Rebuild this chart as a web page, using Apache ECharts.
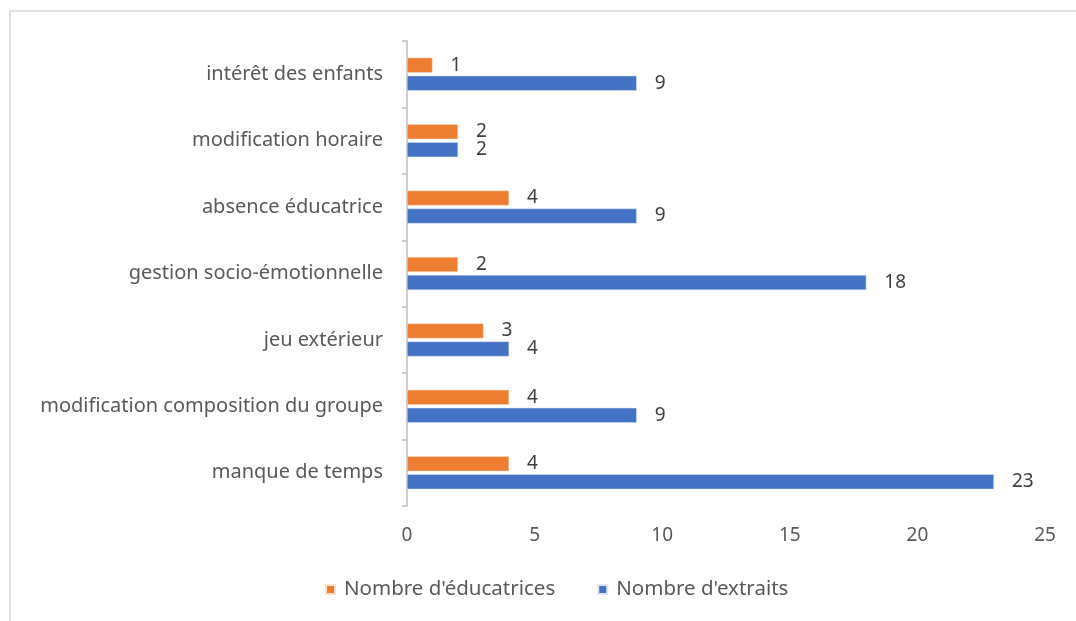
<!DOCTYPE html>
<html>
<head>
<meta charset="utf-8">
<script src="https://cdn.jsdelivr.net/npm/echarts@6/dist/echarts.min.js"></script>
<style>
html,body{margin:0;padding:0;background:#fff;}
#chart{width:1076px;height:621px;}
</style>
</head>
<body>
<div id="chart"></div>
<script>
const categories = ["manque de temps", "modification composition du groupe", "jeu extérieur", "gestion socio-émotionnelle", "absence éducatrice", "modification horaire", "intérêt des enfants"];
const educatrices = [4, 4, 3, 2, 4, 2, 1];
const extraits = [23, 9, 4, 18, 9, 2, 9];
const xTicks = [0, 5, 10, 15, 20, 25];

const FONT = "'Noto Sans', 'Liberation Sans', sans-serif";
const chart = echarts.init(document.getElementById('chart'));
chart.setOption({
  animation: false,
  backgroundColor: '#ffffff',
  graphic: [{
    type: 'rect',
    shape: {x: 10, y: 11, width: 1200, height: 800},
    style: {fill: 'none', stroke: '#d9d9d9', lineWidth: 1.5},
    silent: true
  }],
  grid: {left: 407, right: 31, top: 41, bottom: 115, containLabel: false},
  legend: {
    data: ["Nombre d'éducatrices", "Nombre d'extraits"],
    top: 574,
    left: 320,
    icon: 'rect',
    itemWidth: 9,
    itemHeight: 9,
    itemGap: 42,
    textStyle: {fontFamily: FONT, fontSize: 20.5, color: '#595959', padding: [0, 0, 0, 4]}
  },
  xAxis: {
    type: 'value',
    min: xTicks[0],
    max: xTicks[xTicks.length - 1],
    interval: 5,
    axisLine: {show: false},
    axisTick: {show: false},
    splitLine: {show: false},
    axisLabel: {fontFamily: FONT, fontSize: 19, color: '#595959', margin: 20}
  },
  yAxis: {
    type: 'category',
    data: categories,
    axisLine: {show: true, lineStyle: {color: '#bfbfbf', width: 1.5}},
    axisTick: {show: true, length: 5, lineStyle: {color: '#bfbfbf', width: 1.5}},
    axisLabel: {fontFamily: FONT, fontSize: 20, color: '#595959', margin: 24}
  },
  series: [
    {
      name: "Nombre d'éducatrices",
      type: 'bar',
      data: educatrices,
      barWidth: 15,
      barGap: '20%',
      barCategoryGap: '47%',
      itemStyle: {color: '#ED7D31', borderColor: '#fbe0cc', borderWidth: 0.5},
      label: {show: true, position: 'right', distance: 18, fontFamily: FONT, fontSize: 19, color: '#404040'}
    },
    {
      name: "Nombre d'extraits",
      type: 'bar',
      data: extraits,
      barWidth: 15,
      barGap: '20%',
      barCategoryGap: '47%',
      itemStyle: {color: '#4472C4', borderColor: '#dbe3f4', borderWidth: 0.5},
      label: {show: true, position: 'right', distance: 18, fontFamily: FONT, fontSize: 19, color: '#404040'}
    }
  ]
});
</script>
</body>
</html>
